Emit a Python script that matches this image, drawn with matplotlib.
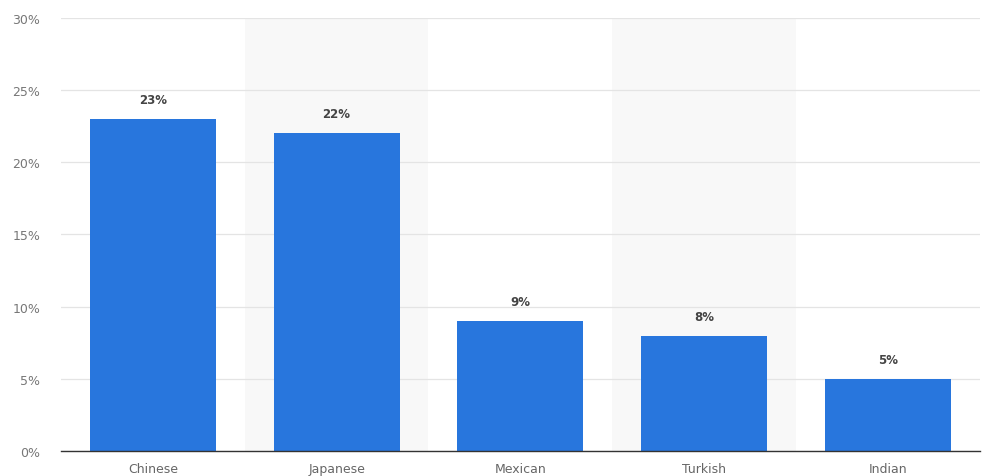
import matplotlib.pyplot as plt
import numpy as np

cuisines = ['Chinese', 'Japanese', 'Mexican', 'Turkish', 'Indian']
shares = [23, 22, 9, 8, 5]
yticks = [0, 5, 10, 15, 20, 25, 30]

fig = plt.figure(figsize=(9.9, 4.77), dpi=100)
ax = fig.add_axes([0.0616, 0.0524, 0.928, 0.908])

x = np.arange(len(cuisines))

# alternating shaded columns
for i in x:
    if i % 2 == 1:
        ax.axvspan(i - 0.5, i + 0.5, color='#f8f8f8', zorder=0, lw=0)

ax.bar(x, shares, width=0.686, color='#2876dd', zorder=3)

for xi, v in zip(x, shares):
    ax.text(xi, v + 0.9, f'{v}%', ha='center', va='bottom',
            fontsize=8.5, fontweight='bold', color='#444444', zorder=4)

ax.set_xlim(-0.5, len(cuisines) - 0.5)
ax.set_ylim(0, 30)
ax.set_yticks(yticks)
ax.set_yticklabels([f'{t}%' for t in yticks])
ax.set_xticks(x)
ax.set_xticklabels(cuisines)

ax.tick_params(axis='y', length=0, pad=15, labelsize=9, labelcolor='#777777')
ax.tick_params(axis='x', length=0, pad=8, labelsize=9, labelcolor='#666666')

ax.grid(axis='y', color='#e4e4e4', lw=0.9, zorder=1)
ax.set_axisbelow(True)
for s in ['top', 'right', 'left']:
    ax.spines[s].set_visible(False)
ax.spines['bottom'].set_color('#333333')
ax.spines['bottom'].set_linewidth(1.0)
ax.spines['bottom'].set_zorder(5)

plt.savefig('out.png', dpi=100)
